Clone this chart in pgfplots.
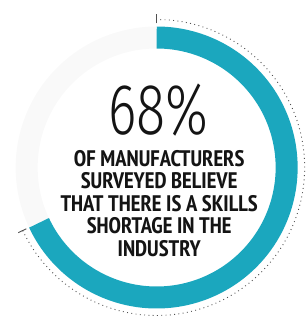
\documentclass[border=0pt]{standalone}
\usepackage{graphicx}
\usepackage{pgfplots}
\pgfplotsset{compat=1.18}
\usepackage{pgfplotstable}
\usepackage{fontspec}
\setmainfont{Fira Sans}
\newfontfamily\lightfont{Fira Sans Light}
\newfontfamily\narrowfont{PT Sans Narrow}[BoldFont={PT Sans Narrow Bold}]
\definecolor{ringteal}{RGB}{27,167,190}
\definecolor{dotgray}{RGB}{80,80,80}
\definecolor{textblack}{RGB}{20,20,20}
\pgfplotstableread{
label value
Agree 68
Other 32
}\ringdata
\newcommand{\boldline}[2]{\node[anchor=base,text=textblack,inner sep=0pt] at (axis cs:156.5,{324-#1}) {\narrowfont\bfseries\fontsize{22.5}{22.5}\selectfont #2};}
\begin{document}
\pgfplotstablegetelem{0}{value}\of\ringdata
\let\pct\pgfplotsretval
\pgfmathsetmacro\endang{90-3.6*\pct}
\begin{tikzpicture}
\begin{axis}[width=303pt,height=324pt,scale only axis,
  xmin=0,xmax=303,ymin=0,ymax=324,hide axis]
\path (axis cs:0,0) rectangle (axis cs:303,324);
% faint remainder ring
\addplot[gray!5, line width=22pt, domain=-270:\endang, samples=80] ({154+130*cos(x)},{156.5+130*sin(x)});
% 68% ring
\addplot[ringteal, line width=22pt, domain=\endang:90, samples=200] ({154+130*cos(x)},{156.5+130*sin(x)});
% dotted guide
\addplot[dotgray, line width=0.9pt, dash pattern=on 0.9pt off 3.4pt, domain=\endang:90, samples=200] ({154+148*cos(x)},{156.5+148*sin(x)});
\draw[dotgray, line width=0.9pt] (axis cs:154,{156.5+144}) -- (axis cs:154,{156.5+153});
\draw[dotgray, line width=0.9pt] (axis cs:{154+144*cos(\endang)},{156.5+144*sin(\endang)}) -- (axis cs:{154+153*cos(\endang)},{156.5+153*sin(\endang)});
\node[anchor=base,text=textblack,inner sep=0pt] at (axis cs:156,{324-134.5}) {\scalebox{0.75}[1]{\lightfont\fontsize{72}{72}\selectfont 68\%}};
\boldline{166.5}{OF MANUFACTURERS}
\boldline{189}{SURVEYED BELIEVE}
\boldline{211.5}{THAT THERE IS A SKILLS}
\boldline{234}{SHORTAGE IN THE}
\boldline{256.5}{INDUSTRY}
\end{axis}
\end{tikzpicture}
\end{document}
